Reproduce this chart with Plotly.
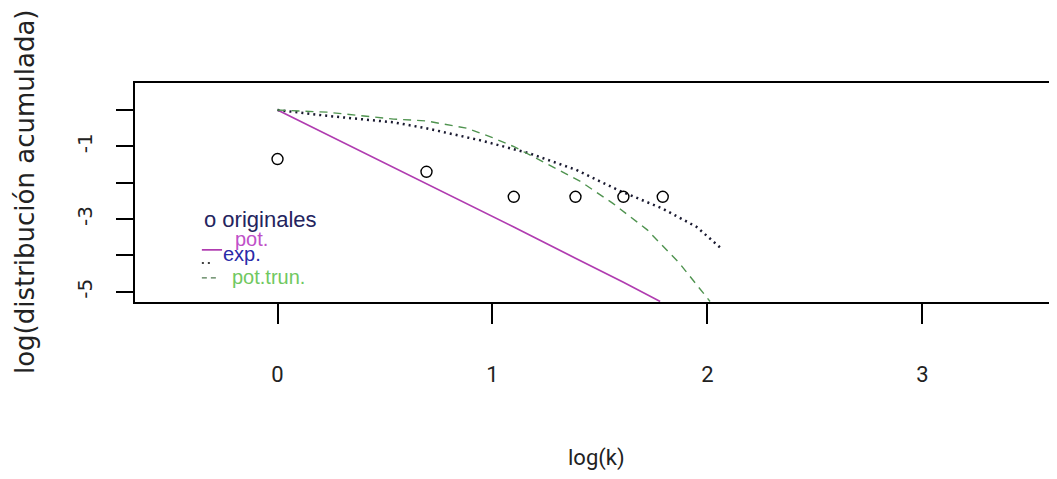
import plotly.graph_objects as go

# observed data: log(k) vs log(cumulative distribution)
log_k = [0.0, 0.693, 1.099, 1.386, 1.609, 1.792]
log_cdf = [-1.35, -1.70, -2.39, -2.39, -2.39, -2.39]

# fitted power law ("pot.")
pot_x = [0.0, 0.693, 1.099, 1.386, 1.609, 1.78]
pot_y = [0.0, -2.02, -3.22, -4.08, -4.74, -5.27]

# fitted exponential ("exp.")
exp_x = [0.0, 0.23, 0.54, 0.69, 0.94, 1.17, 1.39, 1.59, 1.79, 1.95, 2.06]
exp_y = [0.0, -0.16, -0.34, -0.50, -0.83, -1.19, -1.65, -2.22, -2.71, -3.22, -3.79]

# fitted truncated power law ("pot.trun.")
trun_x = [0.0, 0.23, 0.54, 0.69, 0.88, 1.0, 1.10, 1.25, 1.41, 1.56, 1.72, 1.87, 2.012]
trun_y = [0.0, -0.06, -0.25, -0.30, -0.50, -0.76, -1.01, -1.47, -1.97, -2.57, -3.30, -4.22, -5.27]

x_ticks = [0, 1, 2, 3]
y_ticks = [0, -1, -2, -3, -4, -5]
y_ticktext = ["", "-1", "", "-3", "", "-5"]

# page body has an 8px margin: figure is shifted by 8px right and down
fig = go.Figure()
fig.add_trace(go.Scatter(x=pot_x, y=pot_y, mode="lines",
                         line=dict(color="#b03cb0", width=1.7), showlegend=False))
fig.add_trace(go.Scatter(x=exp_x, y=exp_y, mode="lines",
                         line=dict(color="#1a1a30", width=2.5, dash="2px,4px"), showlegend=False))
fig.add_trace(go.Scatter(x=trun_x, y=trun_y, mode="lines",
                         line=dict(color="#4f934f", width=1.4, dash="8px,6px"), showlegend=False))
fig.add_trace(go.Scatter(x=log_k, y=log_cdf, mode="markers",
                         marker=dict(symbol="circle-open", size=11, color="black",
                                     line=dict(width=1.4, color="black")),
                         showlegend=False))

# legend drawn inside the plot (R style)
leg_font = "Liberation Sans"
fig.add_annotation(x=-0.35, y=-3.02, xref="x", yref="y", text="o originales",
                   showarrow=False, xanchor="left", yanchor="middle",
                   font=dict(family=leg_font, size=22, color="#24245e"))
fig.add_annotation(x=-0.207, y=-3.56, xref="x", yref="y", text="pot.",
                   showarrow=False, xanchor="left", yanchor="middle",
                   font=dict(family=leg_font, size=20, color="#c050c8"))
fig.add_annotation(x=-0.262, y=-3.95, xref="x", yref="y", text="exp.",
                   showarrow=False, xanchor="left", yanchor="middle",
                   font=dict(family=leg_font, size=20, color="#2a2aa8"))
fig.add_annotation(x=-0.222, y=-4.6, xref="x", yref="y", text="pot.trun.",
                   showarrow=False, xanchor="left", yanchor="middle",
                   font=dict(family=leg_font, size=20, color="#70c860"))
fig.add_shape(type="line", x0=-0.352, x1=-0.258, y0=-3.85, y1=-3.85, xref="x", yref="y",
              line=dict(color="#b03cb0", width=1.7))
fig.add_shape(type="line", x0=-0.352, x1=-0.30, y0=-4.21, y1=-4.21, xref="x", yref="y",
              line=dict(color="#404040", width=2, dash="2px,4px"))
fig.add_shape(type="line", x0=-0.352, x1=-0.28, y0=-4.62, y1=-4.62, xref="x", yref="y",
              line=dict(color="#507a50", width=1.4, dash="5px,4px"))

# axis titles
fig.add_annotation(x=0.5, y=-0.712, xref="paper", yref="paper", text="log(k)",
                   showarrow=False, xanchor="center", yanchor="middle",
                   font=dict(family="Roboto", size=22, color="#222"))
fig.add_annotation(x=-0.1193, y=0.502, xref="paper", yref="paper",
                   text="log(distribución acumulada)", textangle=-90,
                   showarrow=False, xanchor="center", yanchor="middle",
                   font=dict(family="DejaVu Sans", size=26, color="#222"))

fig.update_layout(
    width=1049, height=471,
    margin=dict(l=127, r=0, t=75, b=177),
    paper_bgcolor="white", plot_bgcolor="white",
    xaxis=dict(range=[-0.663, 3.626], tickvals=x_ticks, ticks="outside", ticklen=20,
               tickwidth=1.5, tickcolor="black", showgrid=False, zeroline=False,
               showline=True, mirror=True, linecolor="black", linewidth=1.8,
               tickfont=dict(family="Roboto", size=22, color="#222"),
               ticklabelstandoff=32),
    yaxis=dict(range=[-5.285, 0.743], tickvals=y_ticks, ticktext=y_ticktext,
               ticks="outside", ticklen=17, tickwidth=1.5, tickcolor="black",
               showgrid=False, zeroline=False, showline=True, linecolor="black",
               linewidth=1.8, tickangle=-90,
               tickfont=dict(family="DejaVu Sans", size=20, color="#222"),
               ticklabelstandoff=16),
)

fig.write_html("out.html")
